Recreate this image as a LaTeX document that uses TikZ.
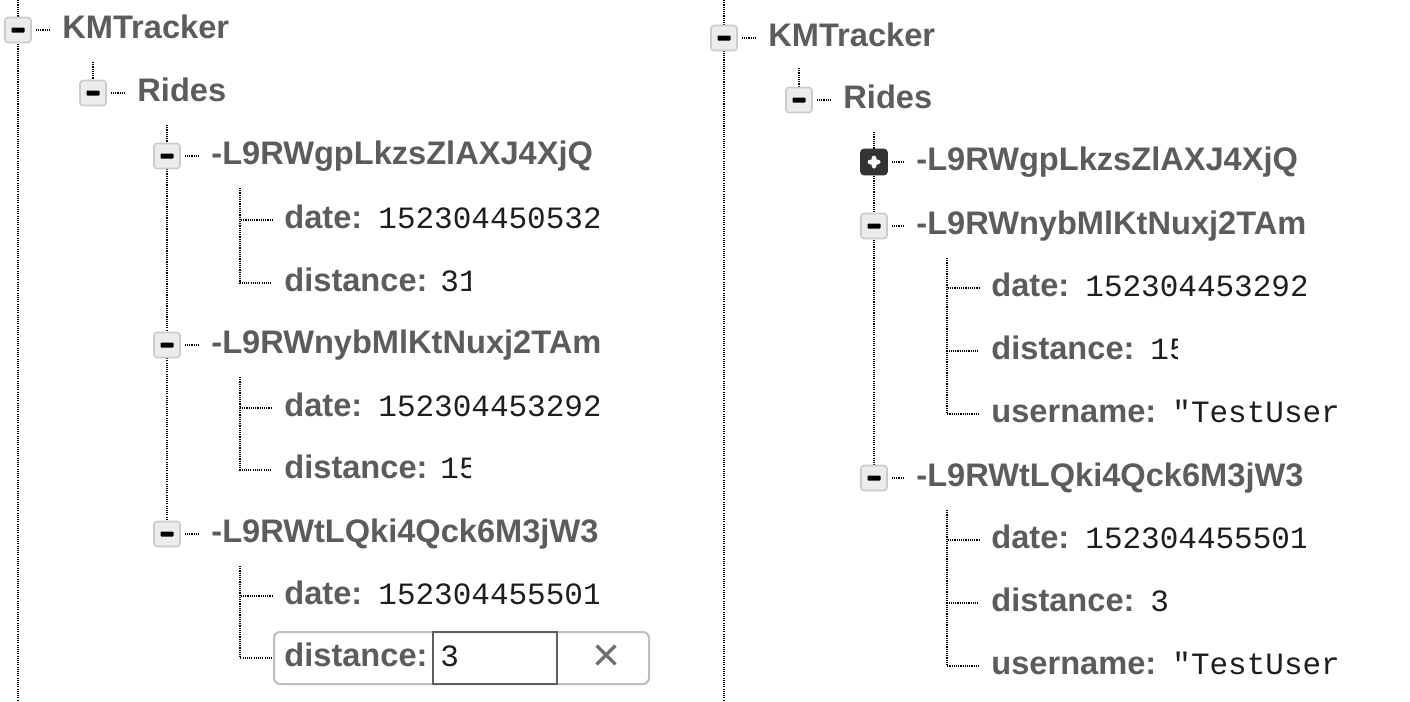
\documentclass[tikz,border=0pt]{standalone}
\usepackage{fontspec}
\setmainfont{Liberation Sans}
\setmonofont{Liberation Mono}
\usetikzlibrary{backgrounds}

\definecolor{labgray}{RGB}{92,92,92}
\definecolor{valblack}{RGB}{30,30,30}
\definecolor{boxfill}{RGB}{236,236,236}
\definecolor{boxline}{RGB}{204,204,204}
\definecolor{boxdark}{RGB}{51,51,51}
\definecolor{editline}{RGB}{190,190,190}
\definecolor{inputline}{RGB}{90,96,102}
\definecolor{cleargray}{RGB}{110,110,110}

\begin{document}
\begin{tikzpicture}[x=0.5pt, y=-0.5pt,
    dotline/.style={draw=black, line width=0.85pt, dash pattern=on 0.55pt off 0.55pt},
    toggle/.style={draw=boxline, fill=boxfill, rounded corners=1.5pt, line width=0.8pt,
        minimum width=13pt, minimum height=12.5pt, inner sep=0pt,
        path picture={\fill[black, rounded corners=0.4pt]
            ([xshift=-3.25pt, yshift=-1.25pt]path picture bounding box.center) rectangle ++(6.5pt,2.5pt);}},
    togglein/.style={draw=boxdark, fill=boxdark, rounded corners=1.5pt, line width=0.8pt,
        minimum width=13pt, minimum height=12.5pt, inner sep=0pt,
        path picture={\fill[white]
            ([xshift=-3.25pt, yshift=-1.25pt]path picture bounding box.center) rectangle ++(6.5pt,2.5pt);
            \fill[white]
            ([xshift=-1.25pt, yshift=-3.25pt]path picture bounding box.center) rectangle ++(2.5pt,6.5pt);}},
    lab/.style={anchor=west, inner xsep=6pt, inner ysep=0pt, text height=11.5pt, text depth=3.5pt,
        text=labgray, font=\bfseries\fontsize{16.3}{18}\selectfont},
    val/.style={anchor=west, inner sep=0pt, text height=11.5pt, text depth=3.5pt,
        text=valblack, font=\ttfamily\fontsize{15.5}{18}\selectfont},
    editbox/.style={draw=editline, rounded corners=3pt, line width=1pt, inner sep=0pt,
        minimum width=187.5pt, minimum height=26pt},
    inputbox/.style={draw=inputline, line width=1pt, inner sep=0pt,
        minimum width=62pt, minimum height=26pt},
    clearx/.style={inner sep=0pt, text=cleargray, font=\fontsize{24}{24}\selectfont}]

    \useasboundingbox (0,0) rectangle (1410,702);

    % left tree, one ride being edited
    \coordinate (ltop) at (18,0);
    \coordinate (lbot) at (18,702);
    \coordinate (lridestop) at (93,62);
    \coordinate (lkeytop) at (167,125);
    \coordinate (lc1) at (240,188);
    \coordinate (lc2) at (240,377);
    \coordinate (lc3) at (240,566);

    \node[toggle] (lroot) at (18,30) {};
    \node[lab] (lrootl) at (50,30) {KMTracker};
    \node[toggle] (lrides) at (93,93) {};
    \node[lab] (lridesl) at (125,93) {Rides};

    \node[toggle] (lk1) at (167,156) {};
    \node[lab] (lk1l) at (199,156) {-L9RWgpLkzsZlAXJ4XjQ};
    \node[lab] (lk1d) at (272,220) {date:};
    \node[lab] (lk1s) at (272,283) {distance:};

    \node[toggle] (lk2) at (167,345) {};
    \node[lab] (lk2l) at (199,345) {-L9RWnybMlKtNuxj2TAm};
    \node[lab] (lk2d) at (272,408) {date:};
    \node[lab] (lk2s) at (272,470) {distance:};

    \node[toggle] (lk3) at (167,534) {};
    \node[lab] (lk3l) at (199,534) {-L9RWtLQki4Qck6M3jW3};
    \node[lab] (lk3d) at (272,596) {date:};
    \node[editbox] (ledit) at (461.5,658) {};
    \node[inputbox] (linput) at (495,658) {};
    \node[lab] (lk3s) at (272,658) {distance:};
    \node[val] (lv3s) at (440,658) {3};
    \node[clearx] (lclear) at (607,658) {×};

    \begin{scope}
        \clip (0,0) rectangle (598,702);
        \node[val] (lv1d) at (378,220) {152304450532};
        \node[val] (lv2d) at (378,408) {152304453292};
        \node[val] (lv3d) at (378,596) {152304455501};
    \end{scope}
    \begin{scope}
        \clip (0,0) rectangle (470,520);
        \node[val] (lv1s) at (440,283) {31};
        \node[val] (lv2s) at (440,470) {15};
    \end{scope}

    % right tree, rides with username
    \coordinate (rtop) at (724,0);
    \coordinate (rbot) at (724,702);
    \coordinate (rridestop) at (799,68);
    \coordinate (rkeytop) at (874,132);
    \coordinate (rc2) at (947,258);
    \coordinate (rc3) at (947,510);

    \node[toggle] (rroot) at (724,38) {};
    \node[lab] (rrootl) at (756,38) {KMTracker};
    \node[toggle] (rrides) at (799,100) {};
    \node[lab] (rridesl) at (831,100) {Rides};

    \node[togglein] (rk1) at (874,162) {};
    \node[lab] (rk1l) at (904,162) {-L9RWgpLkzsZlAXJ4XjQ};

    \node[toggle] (rk2) at (874,226) {};
    \node[lab] (rk2l) at (904,226) {-L9RWnybMlKtNuxj2TAm};
    \node[lab] (rk2d) at (979,288) {date:};
    \node[lab] (rk2s) at (979,351) {distance:};
    \node[lab] (rk2u) at (979,414) {username:};

    \node[toggle] (rk3) at (874,478) {};
    \node[lab] (rk3l) at (904,478) {-L9RWtLQki4Qck6M3jW3};
    \node[lab] (rk3d) at (979,540) {date:};
    \node[lab] (rk3s) at (979,603) {distance:};
    \node[lab] (rk3u) at (979,666) {username:};

    \begin{scope}
        \clip (700,0) rectangle (1305,702);
        \node[val] (rv2d) at (1085,288) {152304453292};
        \node[val] (rv3d) at (1085,540) {152304455501};
    \end{scope}
    \begin{scope}
        \clip (700,0) rectangle (1177,702);
        \node[val] (rv2s) at (1150,351) {15};
        \node[val] (rv3s) at (1150,603) {3};
    \end{scope}
    \begin{scope}
        \clip (700,0) rectangle (1338,702);
        \node[val] (rv2u) at (1172,414) {"TestUser};
        \node[val] (rv3u) at (1172,666) {"TestUser};
    \end{scope}

    \begin{scope}[on background layer]
        \fill[white] (0,0) rectangle (1410,702);
        \draw[dotline] (ltop) -- (lbot);
        \draw[dotline, shorten <=2pt] (lroot.east) -- (lrootl.west);
        \draw[dotline] (lridestop) -- (lrides);
        \draw[dotline, shorten <=2pt] (lrides.east) -- (lridesl.west);
        \draw[dotline] (lkeytop) -- (lk3);
        \draw[dotline, shorten <=2pt] (lk1.east) -- (lk1l.west);
        \draw[dotline, shorten <=2pt] (lk2.east) -- (lk2l.west);
        \draw[dotline, shorten <=2pt] (lk3.east) -- (lk3l.west);
        \draw[dotline] (lc1) |- (lk1d.west);
        \draw[dotline] (lc1) |- (lk1s.west);
        \draw[dotline] (lc2) |- (lk2d.west);
        \draw[dotline] (lc2) |- (lk2s.west);
        \draw[dotline] (lc3) |- (lk3d.west);
        \draw[dotline] (lc3) |- (lk3s.west);

        \draw[dotline] (rtop) -- (rbot);
        \draw[dotline, shorten <=2pt] (rroot.east) -- (rrootl.west);
        \draw[dotline] (rridestop) -- (rrides);
        \draw[dotline, shorten <=2pt] (rrides.east) -- (rridesl.west);
        \draw[dotline] (rkeytop) -- (rk3);
        \draw[dotline, shorten <=2pt] (rk1.east) -- (rk1l.west);
        \draw[dotline, shorten <=2pt] (rk2.east) -- (rk2l.west);
        \draw[dotline, shorten <=2pt] (rk3.east) -- (rk3l.west);
        \draw[dotline] (rc2) |- (rk2d.west);
        \draw[dotline] (rc2) |- (rk2s.west);
        \draw[dotline] (rc2) |- (rk2u.west);
        \draw[dotline] (rc3) |- (rk3d.west);
        \draw[dotline] (rc3) |- (rk3s.west);
        \draw[dotline] (rc3) |- (rk3u.west);
    \end{scope}
\end{tikzpicture}
\end{document}
